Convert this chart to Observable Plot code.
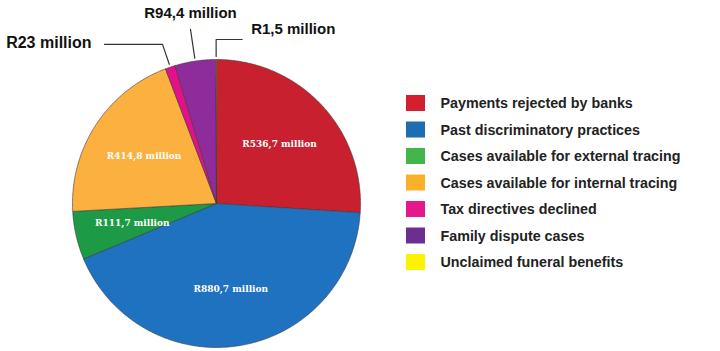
<!DOCTYPE html>
<html><head><meta charset="utf-8">
<script src="https://cdn.jsdelivr.net/npm/d3@7"></script>
<script src="https://cdn.jsdelivr.net/npm/@observablehq/plot@0.6"></script>
<style>body{margin:0;background:#fff;overflow:hidden}</style>
</head><body><div id="chart"></div>
<script>
const categories = ["Payments rejected by banks","Past discriminatory practices","Cases available for external tracing","Cases available for internal tracing","Tax directives declined","Family dispute cases","Unclaimed funeral benefits"];
const values = [536.7, 880.7, 111.7, 414.8, 23, 94.4, 1.5];
const valueLabels = ["R536,7 million","R880,7 million","R111,7 million","R414,8 million","R23 million","R94,4 million","R1,5 million"];
const sliceColors = ["#c8202e","#1f72bf","#1c9a45","#fbb040","#e4108a","#8e2c9c","#fff200"];
const legendColors = ["#d2202f","#1e6db3","#43b54a","#fbb02a","#e5188b","#6c2e8f","#fff200"];

const W = 720, H = 351;
const cx = 216, cy = 203, R = 144;
const pie = d3.pie().sort(null).value(d => d)(values);
const pt = (a, r) => [cx + r * Math.sin(a), cy - r * Math.cos(a)];

// slice polygons
const slicePts = [];
pie.forEach((p, i) => {
  const n = Math.max(2, Math.ceil((p.endAngle - p.startAngle) / (Math.PI / 360)));
  slicePts.push({i, x: cx, y: cy});
  for (let k = 0; k <= n; k++) {
    const a = p.startAngle + (p.endAngle - p.startAngle) * k / n;
    const [x, y] = pt(a, R);
    slicePts.push({i, x, y});
  }
  slicePts.push({i, x: cx, y: cy});
});

// inner labels (large slices)
const inner = pie.map((p, i) => {
  const m = (p.startAngle + p.endAngle) / 2;
  const [x, y] = pt(m, R * 0.6);
  return {i, x, y, label: valueLabels[i]};
}).filter(d => values[d.i] > 100);

// leader lines for small slices
const leaders = [];
const outer = [];
pie.forEach((p, i) => {
  if (values[i] > 100) return;
  const m = (p.startAngle + p.endAngle) / 2;
  const s = pt(m, R + 3);
  if (i === 4) {
    const e = pt(m, R + 24);
    leaders.push({i, x: s[0], y: s[1]}, {i, x: e[0], y: e[1]}, {i, x: e[0] - 58, y: e[1]});
    outer.push({x: e[0] - 71, y: e[1] - 2, label: valueLabels[i], anchor: "end", size: 16});
  } else if (i === 5) {
    const e = pt(m, R + 32);
    leaders.push({i, x: s[0], y: s[1]}, {i, x: e[0], y: e[1]});
    outer.push({x: e[0], y: e[1] - 16, label: valueLabels[i], anchor: "middle", size: 15});
  } else {
    const e = pt(m, R + 20);
    leaders.push({i, x: s[0], y: s[1]}, {i, x: e[0], y: e[1]}, {i, x: e[0] + 26, y: e[1]});
    outer.push({x: e[0] + 35, y: e[1] - 10, label: valueLabels[i], anchor: "start", size: 15});
  }
});

// legend rows
const legend = categories.map((c, i) => ({i, c, y: 103 + i * 26.5}));

const chart = Plot.plot({
  width: W, height: H,
  margin: 0,
  x: {domain: [0, W], range: [0, W], axis: null},
  y: {domain: [0, H], range: [0, H], axis: null},
  color: {type: "identity"},
  style: {background: "#fff"},
  marks: [
    Plot.line(slicePts, {x: "x", y: "y", z: "i", fill: d => sliceColors[d.i], stroke: "#3a3a3a", strokeWidth: 0.6, curve: "linear"}),
    Plot.text(inner, {x: "x", y: "y", text: "label", fill: "#fff", fontFamily: "DejaVu Serif", fontWeight: "bold", fontSize: 9}),
    Plot.line(leaders, {x: "x", y: "y", z: "i", stroke: "#333", strokeWidth: 1.2}),
    ...outer.map(o => Plot.text([o], {x: "x", y: "y", text: "label", textAnchor: o.anchor, fontFamily: "Liberation Sans, Arial, sans-serif", fontWeight: "bold", fontSize: o.size, fill: "#111"})),
    Plot.rect(legend, {x1: () => 406, x2: () => 425, y1: d => d.y - 8, y2: d => d.y + 8, fill: d => legendColors[d.i]}),
    Plot.text(legend, {x: () => 440, y: "y", text: "c", textAnchor: "start", fontFamily: "Liberation Sans, Arial, sans-serif", fontWeight: "bold", fontSize: 14.3, fill: "#222"})
  ]
});
document.getElementById("chart").append(chart);
</script>
</body></html>
